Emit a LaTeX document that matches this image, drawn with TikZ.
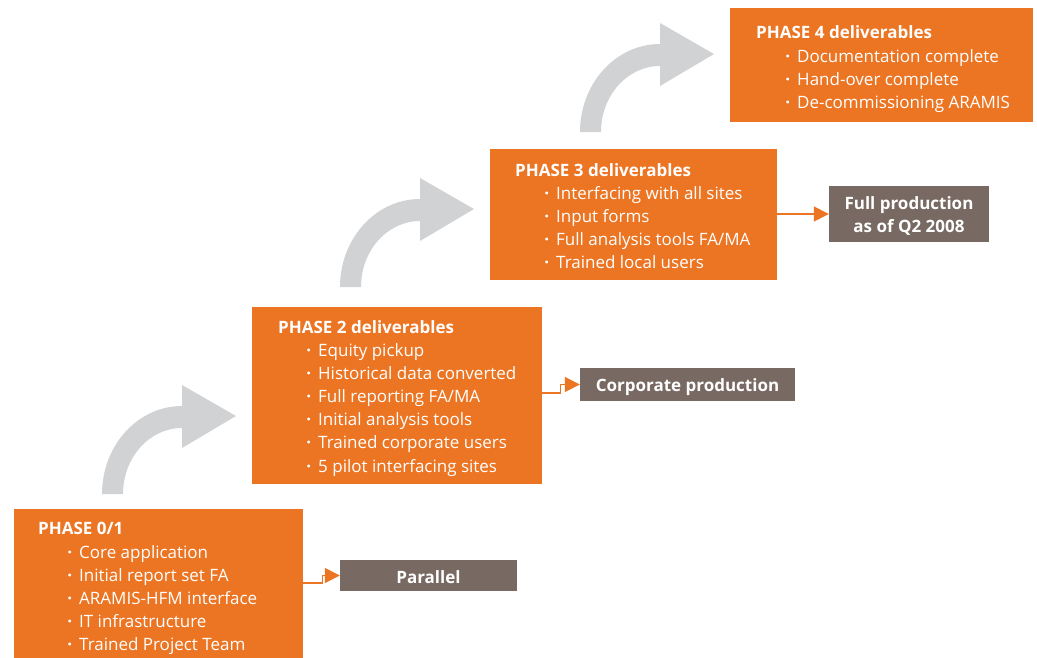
\documentclass[tikz,border=0pt]{standalone}
\usepackage{fontspec}
\setmainfont{Open Sans}
\usetikzlibrary{arrows.meta}
\definecolor{porange}{HTML}{EC7523}
\definecolor{pgrey}{HTML}{786A62}
\definecolor{agrey}{HTML}{D1D2D4}
\tikzset{
  obox/.style={fill=porange, draw=none, anchor=north west, inner sep=0},
  gbox/.style={fill=pgrey, draw=none, inner sep=0, minimum width=#1},
  gtxt/.style={inner sep=0, text=white, font=\fontsize{17}{23}\selectfont\bfseries, align=center},
  ttl/.style={anchor=west, inner sep=0, text=white, font=\fontsize{17}{20}\selectfont\bfseries, text height=12pt, text depth=0pt},
  itm/.style={anchor=west, inner sep=0, text=white, font=\fontsize{17}{20}\selectfont, text height=12pt, text depth=0pt},
  conn/.style={draw=porange, line width=1.5pt, -{Triangle[length=15pt,width=15pt]}},
}
\newcommand{\bul}{\llap{{\bfseries\textperiodcentered}\hspace{7pt}}}
\newcommand{\bigarrow}[2]{%
  \fill[agrey] (#1,#2) arc[start angle=180,end angle=270,x radius=80,y radius=88]
    -- ++(0,-21) -- (#1+134,#2-78) -- (#1+80,#2-46) -- (#1+80,#2-66)
    arc[start angle=270,end angle=180,x radius=59,y radius=66] -- cycle;}
\begin{document}
\begin{tikzpicture}[x=1pt,y=-1pt]
\useasboundingbox (0,0) rectangle (1037,657);
% curved arrows
\bigarrow{102}{494}
\bigarrow{340}{287}
\bigarrow{580}{132}
% phase boxes
\node[obox, minimum width=289pt, minimum height=149pt] (p0) at (14,509) {};
\node[obox, minimum width=290pt, minimum height=177pt] (p2) at (252,307) {};
\node[obox, minimum width=287pt, minimum height=131pt] (p3) at (490,149) {};
\node[obox, minimum width=303pt, minimum height=114pt] (p4) at (730,8) {};
% grey boxes
\node[gbox=177pt, minimum height=31pt] (par) at (428.5,575.5) {};
\node[gtxt] (part) at (428.5,577.5) {Parallel};
\node[gbox=215pt, minimum height=33pt] (corp) at (687.5,384.5) {};
\node[gtxt] (corpt) at (687.5,387) {Corporate production};
\node[gbox=160pt, minimum height=56pt] (full) at (909,214) {};
\node[gtxt] (fullt) at (909,216) {Full production\\as of Q2 2008};
% phase 0/1 text
\node[ttl] (p0t) at (38,528) {PHASE 0/1};
\node[itm] (p0a) at (79,552) {\bul Core application};
\node[itm] (p0b) at (79,575) {\bul Initial report set FA};
\node[itm] (p0c) at (79,598) {\bul ARAMIS-HFM interface};
\node[itm] (p0d) at (79,621) {\bul IT infrastructure};
\node[itm] (p0e) at (79,644) {\bul Trained Project Team};
% phase 2 text
\node[ttl] (p2t) at (278,327) {PHASE 2 deliverables};
\node[itm] (p2a) at (318,350) {\bul Equity pickup};
\node[itm] (p2b) at (318,373) {\bul Historical data converted};
\node[itm] (p2c) at (318,396) {\bul Full reporting FA/MA};
\node[itm] (p2d) at (318,419) {\bul Initial analysis tools};
\node[itm] (p2e) at (318,442) {\bul Trained corporate users};
\node[itm] (p2f) at (318,466) {\bul 5 pilot interfacing sites};
% phase 3 text
\node[ttl] (p3t) at (515,170) {PHASE 3 deliverables};
\node[itm] (p3a) at (556,193) {\bul Interfacing with all sites};
\node[itm] (p3b) at (556,216) {\bul Input forms};
\node[itm] (p3c) at (556,239) {\bul Full analysis tools FA/MA};
\node[itm] (p3d) at (556,262) {\bul Trained local users};
% phase 4 text
\node[ttl] (p4t) at (756,32) {PHASE 4 deliverables};
\node[itm] (p4a) at (797,56) {\bul Documentation complete};
\node[itm] (p4b) at (797,79) {\bul Hand-over complete};
\node[itm] (p4c) at (797,102) {\bul De-commissioning ARAMIS};
% connectors
\coordinate (c0) at (0,583);
\coordinate (c2) at (0,393);
\draw[conn] (p0.east |- c0) -- ++(19,0) |- (par.west);
\draw[conn] (p2.east |- c2) -- ++(18,0) |- (corp.west);
\draw[conn] (p3.east |- full.west) -- (full.west);
\end{tikzpicture}
\end{document}
